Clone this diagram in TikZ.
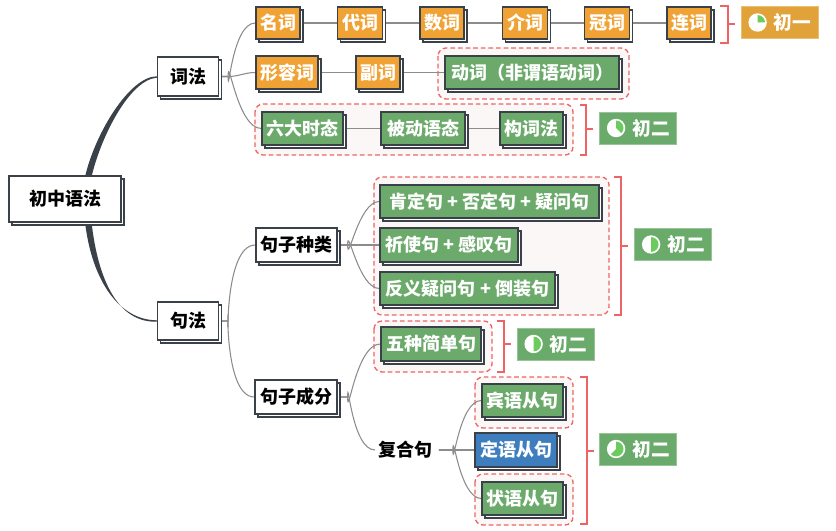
\documentclass[tikz,border=0pt]{standalone}
\usepackage{fontspec}
\setmainfont{Noto Sans CJK SC}
\usetikzlibrary{shadows}
\definecolor{outl}{HTML}{3B4148}
\definecolor{org}{HTML}{F0A234}
\definecolor{grn}{HTML}{6BAA6B}
\definecolor{blu}{HTML}{3E7EBF}
\definecolor{tagorg}{HTML}{E2A23A}
\definecolor{taggrn}{HTML}{6AAA6A}
\definecolor{wedge}{HTML}{6CCB5F}
\definecolor{grpred}{HTML}{EE6464}
\definecolor{grpfill}{HTML}{FBF7F7}
\definecolor{conn}{HTML}{8C8C8C}
\pgfdeclarelayer{grp}\pgfdeclarelayer{lines}
\pgfsetlayers{grp,lines,main}
\tikzset{
 base/.style={draw=outl, line width=1pt, inner sep=0pt,
   font=\bfseries\fontsize{13.5}{16}\selectfont,
   copy shadow={shadow xshift=2.25pt, shadow yshift=-2.25pt, fill=white, draw=outl, line width=0.8pt}},
 sz/.style 2 args={minimum width=#1*0.75pt, minimum height=#2*0.75pt},
 topic/.style={base, fill=white, text=black},
 onode/.style={base, fill=org, text=white},
 gnode/.style={base, fill=grn, text=white},
 bnode/.style={base, fill=blu, text=white},
 grpbox/.style={draw=grpred, fill=grpfill, dash pattern=on 3.5pt off 2.2pt, line width=1pt, rounded corners=6pt},
 brk/.style={draw=grpred, line width=1pt},
 tagbox/.style={draw=#1!70!white, fill=#1, line width=0.6pt, inner sep=0pt, minimum width=77*0.75pt, minimum height=32*0.75pt},
 tagtext/.style={text=white, font=\bfseries\fontsize{14}{16}\selectfont, inner sep=0pt},
 br/.style={draw=conn, line width=0.8pt},
}
\newcommand\progicn[2]{%
 \begin{scope}[shift={(#1)}, x=0.75pt, y=0.75pt]
  \fill[white] (17,0) circle (9.2);
  \fill[wedge] (17,0) -- ++(90:7.4) arc[start angle=90, end angle=90-#2, radius=7.4] -- cycle;
 \end{scope}}
\begin{document}
\begin{tikzpicture}[x=0.75pt,y=-0.75pt]
\useasboundingbox (0,0) rectangle (836,531);
% groups
\begin{pgfonlayer}{grp}
\draw[grpbox] (438,48) rectangle (629,99);
\draw[grpbox] (255,104) rectangle (573,155);
\draw[grpbox] (374,177) rectangle (609,315);
\draw[grpbox] (374,321) rectangle (492,372);
\draw[grpbox] (475,377) rectangle (573,428);
\draw[grpbox] (475,474) rectangle (573,525);
\end{pgfonlayer}
% nodes
\node[topic, sz={112}{46}] (root) at (65,199) {初中语法};
\node[topic, sz={61}{39}] (cifa) at (188,76.5) {词法};
\node[topic, sz={61}{38}] (jufa) at (188,321) {句法};
\node[onode, sz={44}{32}] (n1) at (278,23) {名词};
\node[onode, sz={45}{32}] (n2) at (360,23) {代词};
\node[onode, sz={44}{32}] (n3) at (442,23) {数词};
\node[onode, sz={45}{32}] (n4) at (525,23) {介词};
\node[onode, sz={45}{32}] (n5) at (607,23) {冠词};
\node[onode, sz={44}{32}] (n6) at (689,23) {连词};
\node[onode, sz={62}{33}] (a1) at (287,72.5) {形容词};
\node[onode, sz={44}{33}] (a2) at (378,72.5) {副词};
\node[gnode, sz={174}{33}] (a3) at (532,72.5) {动词（非谓语动词）};
\node[gnode, sz={81}{33}] (t1) at (302.5,128.5) {六大时态};
\node[gnode, sz={84}{33}] (t2) at (423,128.5) {被动语态};
\node[gnode, sz={63}{33}] (t3) at (531.5,128.5) {构词法};
\node[topic, sz={81}{34}] (jzzl) at (296.5,245) {句子种类};
\node[gnode, sz={219}{33}] (s1) at (489.5,201.5) {肯定句 + 否定句 + 疑问句};
\node[gnode, sz={138}{34}] (s2) at (449,245) {祈使句 + 感叹句};
\node[gnode, sz={175}{33}] (s3) at (467.5,288.5) {反义疑问句 + 倒装句};
\node[topic, sz={82}{34}] (jzcf) at (296,397) {句子成分};
\node[gnode, sz={100}{34}] (wz) at (431,344) {五种简单句};
\node[font=\bfseries\fontsize{13.5}{16}\selectfont, inner sep=0pt] (fhj) at (405,450) {复合句};
\node[gnode, sz={81}{33}] (c1) at (522.5,400.5) {宾语从句};
\node[bnode, sz={82}{34}] (c2) at (516,450) {定语从句};
\node[gnode, sz={81}{33}] (c3) at (522.5,498.5) {状语从句};
% connectors
\begin{pgfonlayer}{lines}
\fill[outl] (85,177) .. controls (95,133) and (130,76) .. (157,76.3) -- (157,77.7) .. controls (130,79.5) and (101,136) .. (91.5,177) -- cycle;
\fill[outl] (85,222) .. controls (92,282) and (120,320.3) .. (157,320.3) -- (157,321.7) .. controls (118,323) and (98,280) .. (91.5,222) -- cycle;
\draw[br] (cifa.east) -- ++(9,0) to[out=-90,in=180] (n1.west);
\draw[br] (cifa.east) -- ++(9,0) to[out=0,in=180] (a1.west);
\draw[br] (cifa.east) -- ++(9,0) to[out=90,in=180] (t1.west);
\draw[br] (n1) -- (n2) -- (n3) -- (n4) -- (n5) -- (n6);
\draw[br] (a1) -- (a2) -- (a3);
\draw[br] (t1) -- (t2) -- (t3);
\draw[br] (jufa.east) -- ++(9,0) to[out=-90,in=180] (jzzl.west);
\draw[br] (jufa.east) -- ++(9,0) to[out=90,in=180] (jzcf.west);
\draw[br] (jzzl.east) -- ++(10,0) to[out=-90,in=180] (s1.west);
\draw[br] (jzzl.east) -- (s2.west);
\draw[br] (jzzl.east) -- ++(10,0) to[out=90,in=180] (s3.west);
\draw[br] (jzcf.east) -- ++(10,0) to[out=-90,in=180] (wz.west);
\draw[br] (jzcf.east) -- ++(10,0) to[out=90,in=180] ([xshift=-2pt]fhj.west);
\draw[br] ([xshift=5pt]fhj.east) -- ++(14,0) to[out=-90,in=180] (c1.west);
\draw[br] ([xshift=5pt]fhj.east) -- (c2.west);
\draw[br] ([xshift=5pt]fhj.east) -- ++(14,0) to[out=90,in=180] (c3.west);
\end{pgfonlayer}
% brackets
\draw[brk] (720,6) -- (728,6) -- (728,43) -- (720,43); \draw[brk] (728,24) -- (735,24);
\draw[brk] (580,105) -- (586,105) -- (586,155) -- (580,155); \draw[brk] (586,129) -- (593,129);
\draw[brk] (614,177) -- (621,177) -- (621,315) -- (614,315); \draw[brk] (621,246) -- (628,246);
\draw[brk] (497,321) -- (504,321) -- (504,372) -- (497,372); \draw[brk] (504,344) -- (511,344);
\draw[brk] (580,377) -- (587,377) -- (587,524) -- (580,524); \draw[brk] (587,451) -- (594,451);
% tags
\node[tagbox=tagorg] (g1) at (779.5,22.5) {};
\node[tagbox=taggrn] (g2) at (638,128) {};
\node[tagbox=taggrn] (g3) at (673,244.5) {};
\node[tagbox=taggrn] (g4) at (555.5,344) {};
\node[tagbox=taggrn] (g5) at (638,449) {};
\path (g1.west) ++(52,0) node[tagtext] (g1t) {初一};
\path (g2.west) ++(52,0) node[tagtext] (g2t) {初二};
\path (g3.west) ++(52,0) node[tagtext] (g3t) {初二};
\path (g4.west) ++(52,0) node[tagtext] (g4t) {初二};
\path (g5.west) ++(52,0) node[tagtext] (g5t) {初二};
\progicn{g1.west}{90}
\progicn{g2.west}{135}
\progicn{g3.west}{180}
\progicn{g4.west}{180}
\progicn{g5.west}{225}
\end{tikzpicture}
\end{document}
